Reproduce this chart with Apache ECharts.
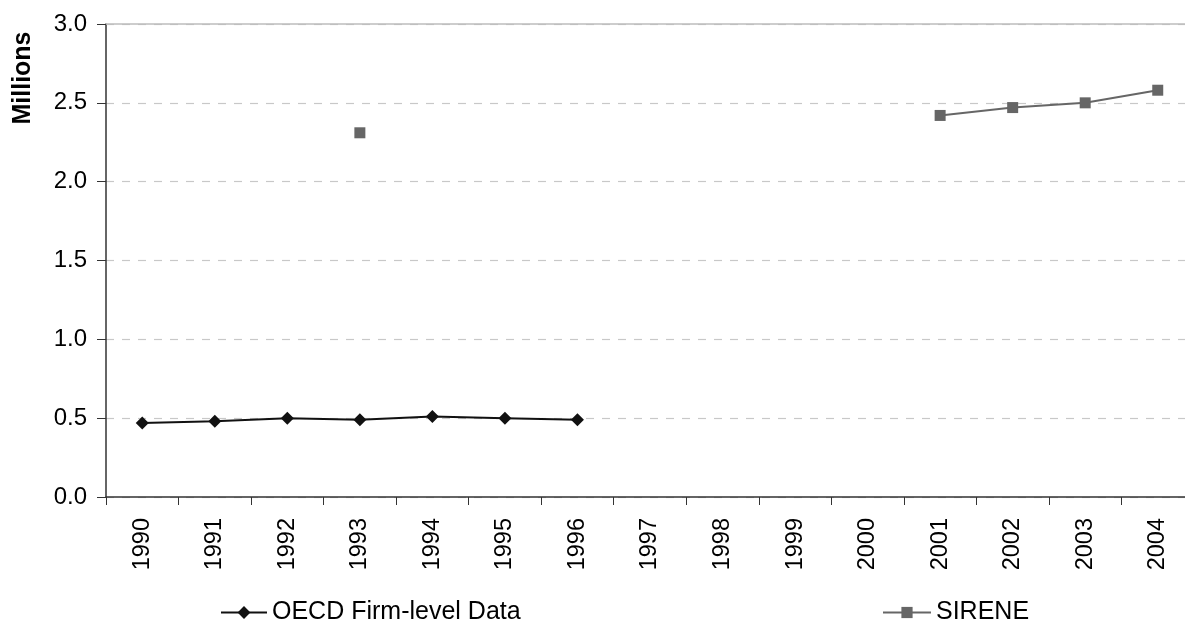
<!DOCTYPE html>
<html>
<head>
<meta charset="utf-8">
<script src="https://cdn.jsdelivr.net/npm/echarts@6/dist/echarts.min.js"></script>
<style>
  html, body { margin: 0; padding: 0; background: #fff; overflow: hidden; }
  #chart { width: 1194px; height: 621px; }
</style>
</head>
<body>
<div id="chart"></div>
<script>
// Number of firms, in millions
const years = ['1990','1991','1992','1993','1994','1995','1996','1997','1998','1999','2000','2001','2002','2003','2004'];
const oecdFirmLevel = [0.47, 0.48, 0.50, 0.49, 0.51, 0.50, 0.49, null, null, null, null, null, null, null, null];
const sirene = [null, null, null, 2.31, null, null, null, null, null, null, null, 2.42, 2.47, 2.50, 2.58];
const yTicks = { min: 0, max: 3, interval: 0.5 };

const font = 'Liberation Sans, Arial, sans-serif';
const chart = echarts.init(document.getElementById('chart'), null, { renderer: 'canvas' });

chart.setOption({
  animation: false,
  backgroundColor: '#ffffff',
  grid: { left: 106, top: 24, right: 0, height: 473, containLabel: false },
  graphic: [
    {
      type: 'text',
      x: 23, y: 78,
      rotation: Math.PI / 2,
      style: {
        text: 'Millions',
        font: 'bold 25px ' + font,
        fill: '#000',
        align: 'center',
        verticalAlign: 'middle'
      }
    }
  ],
  xAxis: {
    type: 'category',
    data: years,
    boundaryGap: true,
    axisLine: { lineStyle: { color: '#333', width: 1.5 } },
    axisTick: { show: true, length: 8, alignWithLabel: false, lineStyle: { color: '#333' } },
    axisLabel: { rotate: 90, margin: 21, color: '#000', fontSize: 23.5, fontFamily: font }
  },
  yAxis: {
    type: 'value',
    min: yTicks.min, max: yTicks.max, interval: yTicks.interval,
    axisLine: { show: true, lineStyle: { color: '#333', width: 1.5 } },
    axisTick: { show: true, length: 9, inside: false, lineStyle: { color: '#333' } },
    axisLabel: { formatter: v => v.toFixed(1), color: '#000', fontSize: 24, fontFamily: font, margin: 19 },
    splitLine: { show: true, lineStyle: { color: '#c8c8c8', type: [8, 8], width: 1.2 } }
  },
  legend: [
    {
      data: ['OECD Firm-level Data'],
      left: 220, top: 600, padding: 0,
      itemWidth: 46, itemHeight: 16,
      textStyle: { fontSize: 25, fontFamily: font, color: '#000' }
    },
    {
      data: ['SIRENE'],
      left: 882, top: 600, padding: 0,
      itemWidth: 48, itemHeight: 14,
      textStyle: { fontSize: 25, fontFamily: font, color: '#000' }
    }
  ],
  series: [
    {
      name: 'OECD Firm-level Data',
      type: 'line',
      data: oecdFirmLevel,
      symbol: 'diamond',
      symbolSize: 13,
      showAllSymbol: true,
      connectNulls: false,
      itemStyle: { color: '#111' },
      lineStyle: { color: '#111', width: 2 },
      markLine: {
        silent: true, symbol: 'none', label: { show: false },
        lineStyle: { color: '#bdbdbd', type: 'solid', width: 1.5 },
        data: [{ yAxis: yTicks.max }]
      }
    },
    {
      name: 'SIRENE',
      type: 'line',
      data: sirene,
      symbol: 'rect',
      symbolSize: 11,
      showAllSymbol: true,
      connectNulls: false,
      itemStyle: { color: '#666' },
      lineStyle: { color: '#666', width: 2 }
    }
  ]
});
</script>
</body>
</html>
